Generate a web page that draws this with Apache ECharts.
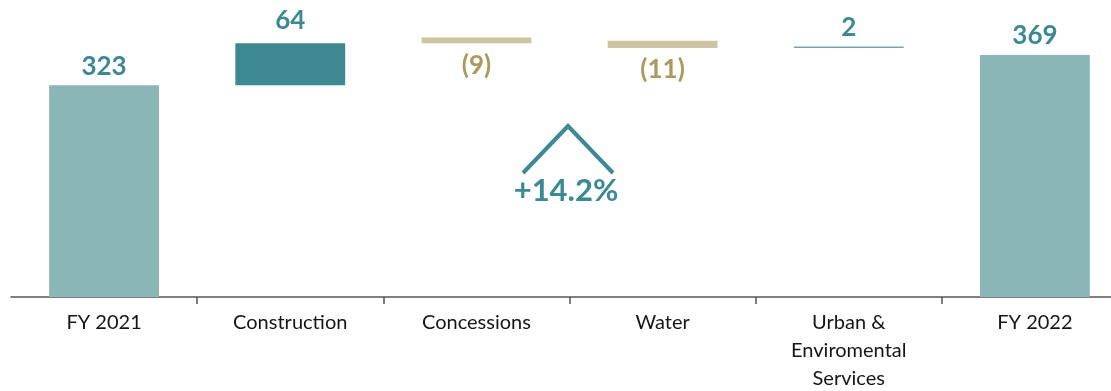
<!DOCTYPE html>
<html><head><meta charset="utf-8">
<script src="https://cdn.jsdelivr.net/npm/echarts@6/dist/echarts.min.js"></script>
<style>html,body{margin:0;padding:0;background:#fff}#c{width:1111px;height:391px}</style>
</head><body><div id="c"></div>
<script>
const categories = ['FY 2021', 'Construction', 'Concessions', 'Water', 'Urban &\nEnviromental\nServices', 'FY 2022'];
const changes = [323, 64, -9, -11, 2, 369];
const bases = [0, 323, 387, 380, 380, 0];
const kinds = ['total', 'up', 'down', 'down', 'up-small', 'total'];
const growthLabel = '+14.2%';

const barColors = { 'total': '#8bb6b6', 'up': '#3d8991', 'down': '#cdc5a0', 'up-small': '#6fa9b0' };
const posText = '#3b8a93', negText = '#a99a5e';

const chart = echarts.init(document.getElementById('c'));
const fmt = v => v < 0 ? '(' + Math.abs(v) + ')' : String(v);

chart.setOption({
  animation: false,
  grid: { left: 11, right: -17, top: 2, bottom: 94, containLabel: false, outerBoundsMode: 'none' },
  xAxis: {
    type: 'category', data: categories,
    axisLine: { lineStyle: { color: '#555', width: 1.5 } },
    axisTick: { show: true, length: 7, lineStyle: { color: '#555', width: 1.5 }, interval: (i) => i > 0 },
    axisLabel: { color: '#151515', fontFamily: 'Lato', fontSize: 20, lineHeight: 28, margin: 12, interval: 0 }
  },
  yAxis: { type: 'value', min: 0, max: 450, show: false, splitLine: { show: false } },
  series: [
    { type: 'bar', stack: 'w', data: bases, itemStyle: { color: 'transparent' }, barWidth: '59%', silent: true },
    {
      type: 'bar', stack: 'w', barWidth: '59%',
      data: changes.map((v, i) => ({
        value: Math.abs(v),
        itemStyle: { color: barColors[kinds[i]] },
        label: {
          position: v < 0 ? 'bottom' : 'top',
          distance: v < 0 ? 9 : (kinds[i] === 'up' ? 10 : 6),
          color: v < 0 ? negText : posText,
          formatter: fmt(v)
        }
      })),
      label: { show: true, fontFamily: 'Lato', fontWeight: 'bold', fontSize: 26 }
    }
  ],
  graphic: [
    { type: 'polyline', shape: { points: [[523, 173], [568, 126], [613, 173]] }, style: { stroke: '#3b8a93', lineWidth: 4, fill: null } },
    { type: 'text', style: { text: growthLabel, x: 566, y: 191, align: 'center', verticalAlign: 'middle', font: 'bold 31px Lato', fill: '#3b8a93' } }
  ]
});
</script></body></html>
